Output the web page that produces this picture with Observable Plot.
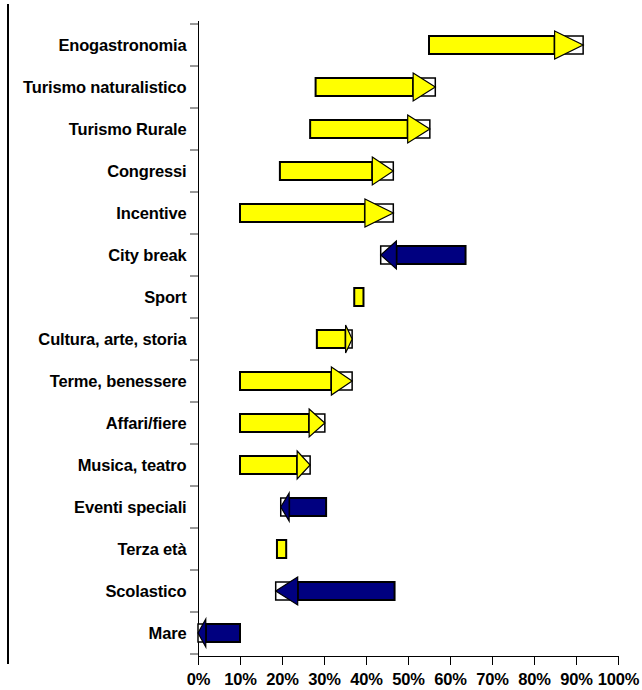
<!DOCTYPE html>
<html>
<head>
<meta charset="utf-8">
<script src="https://cdn.jsdelivr.net/npm/d3@7"></script>
<script src="https://cdn.jsdelivr.net/npm/@observablehq/plot@0.6"></script>
<style>
  body { margin: 0; background: #fff; }
  #chart { position: relative; width: 642px; height: 690px; }
  #chart .frame { position: absolute; left: 7px; top: 4px; width: 2px; height: 660px; background: #000; }
  #chart svg { position: absolute; left: 0; top: 0; }
</style>
</head>
<body>
<div id="chart"><div class="frame"></div></div>
<script>
// Tourism segments, top to bottom
const categories = [
  "Enogastronomia", "Turismo naturalistico", "Turismo Rurale", "Congressi",
  "Incentive", "City break", "Sport", "Cultura, arte, storia",
  "Terme, benessere", "Affari/fiere", "Musica, teatro", "Eventi speciali",
  "Terza età", "Scolastico", "Mare"
];
// Share at the start of the period (%)
const startValues = [55, 28, 26.7, 19.5, 10, 63.7, 37.2, 28.3, 10, 10, 10, 30.5, 18.8, 46.8, 10];
// Share at the end of the period (%)
const endValues   = [91.7, 56.5, 55.2, 46.5, 46.5, 43.5, 39.4, 36.7, 36.7, 30.2, 26.7, 19.7, 21, 18.5, 0];
// Direction of change: growing, shrinking or stable
const trends = ["up", "up", "up", "up", "up", "down", "flat", "up", "up", "up", "up", "down", "flat", "down", "down"];
const xTicks = [0, 10, 20, 30, 40, 50, 60, 70, 80, 90, 100];

const trendColors = { up: "#ffff00", down: "#000080", flat: "#ffff00" };
const headShare = 0.185;   // arrowhead length as a share of the arrow length
const headHalf = 14;       // arrowhead half-height in px
const barInset = 12;       // band inset above/below each arrow body

const rows = categories.map((category, i) => {
  const s = startValues[i], e = endValues[i], trend = trends[i];
  const head = trend === "flat" ? 0 : headShare * Math.abs(e - s);
  const headStart = trend === "up" ? e - head : trend === "down" ? e + head : e;
  return {
    category, start: s, end: e, trend, headStart,
    color: trendColors[trend],
    bodyX1: Math.min(s, headStart), bodyX2: Math.max(s, headStart),
    boxX1: Math.min(e, headStart), boxX2: Math.max(e, headStart)
  };
});
const arrows = rows.filter(d => d.trend !== "flat");

// Arrowhead triangles, placed with the plot's x and y scales
function arrowheads(index, scales) {
  const x = scales.x, y = scales.y;
  const bw = y.bandwidth();
  const g = d3.create("svg:g");
  g.selectAll("path").data(arrows).join("path")
    .attr("d", d => {
      const cy = y(d.category) + bw / 2;
      const xb = x(d.headStart), xt = x(d.end);
      return `M${xb},${cy - headHalf}L${xt},${cy}L${xb},${cy + headHalf}Z`;
    })
    .attr("fill", d => d.color)
    .attr("stroke", "#000")
    .attr("stroke-width", 1.2)
    .attr("stroke-linejoin", "miter");
  return g.node();
}

// Short ticks on the category axis at the band edges
function bandEdges(index, scales) {
  const x = scales.x, y = scales.y;
  const bw = y.bandwidth();
  const x0 = x(0);
  const edges = categories.map(c => y(c)).concat([y(categories[categories.length - 1]) + bw]);
  const g = d3.create("svg:g");
  g.selectAll("line").data(edges).join("line")
    .attr("x1", x0 - 8).attr("x2", x0)
    .attr("y1", d => d).attr("y2", d => d)
    .attr("stroke", "#333").attr("stroke-width", 1);
  return g.node();
}

const chart = Plot.plot({
  width: 642,
  height: 690,
  marginTop: 21,
  marginBottom: 34,
  marginLeft: 198,
  marginRight: 24,
  style: {
    fontFamily: "'Liberation Sans', Arial, sans-serif",
    fontSize: "16.5px",
    fontWeight: "bold",
    letterSpacing: "-0.15px",
    color: "#000",
    background: "transparent",
    overflow: "visible"
  },
  x: { domain: [0, 100], ticks: xTicks, tickFormat: d => d + "%", tickSize: 9, tickPadding: 8, line: true, label: null },
  y: { domain: categories, padding: 0, tickSize: 0, tickPadding: 12, line: true, label: null },
  color: { type: "identity" },
  marks: [
    bandEdges,
    Plot.barX(rows, {
      y: "category", x1: "bodyX1", x2: "bodyX2", fill: "color",
      stroke: "#000", strokeWidth: 2, insetTop: barInset, insetBottom: barInset
    }),
    Plot.barX(arrows, {
      y: "category", x1: "boxX1", x2: "boxX2", fill: "#fff",
      stroke: "#000", strokeWidth: 1.5, insetTop: barInset, insetBottom: barInset
    }),
    arrowheads
  ]
});

document.getElementById("chart").appendChild(chart);
</script>
</body>
</html>
